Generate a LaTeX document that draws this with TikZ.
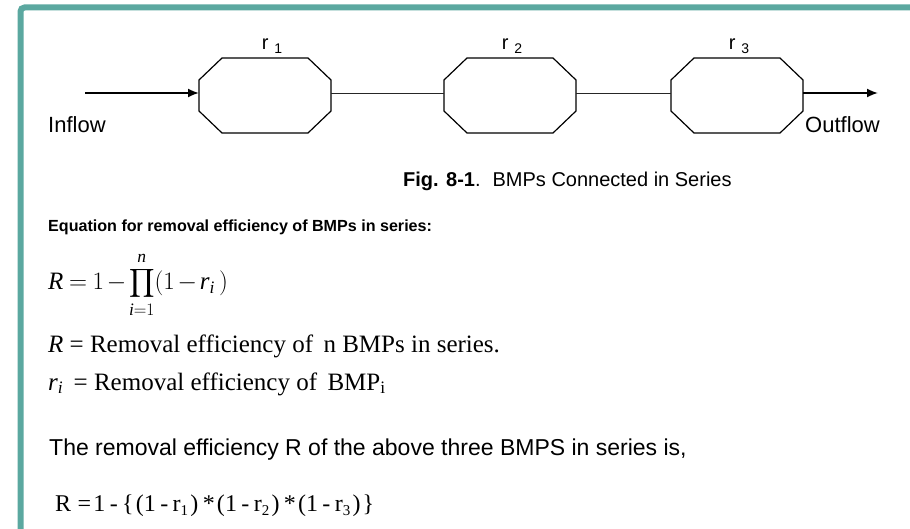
\documentclass[tikz,border=0pt]{standalone}
\usepackage{fix-cm}
\usepackage{exscale}
\usepackage{fontspec}
\setmainfont{Liberation Serif}
\setsansfont{Liberation Sans}
\usetikzlibrary{arrows.meta}
\definecolor{tealframe}{HTML}{5BA8A0}
\newcommand\gapA{\hspace{2.2pt}}
\newcommand\gapB{\hspace{4.4pt}}
\newcommand\subnum[1]{\raisebox{-4.5pt}{\fontsize{15}{15}\selectfont #1}}
\newcommand\smallprod{\mathop{\vcenter{\hbox{\scalebox{0.8}{$\displaystyle\prod$}}}}\limits}
\begin{document}
\begin{tikzpicture}[x=1pt,y=-1pt,
  bmp/.style={minimum width=132pt,minimum height=75pt,inner sep=0pt,outer sep=0pt},
  lbl/.style={font=\sffamily\fontsize{20}{20}\selectfont,inner sep=0pt},
  flowlbl/.style={font=\sffamily\fontsize{22}{22}\selectfont,inner sep=0pt},
  flow/.style={line width=1.8pt,-{Latex[length=11pt,width=9pt]}},
  link/.style={line width=0.9pt,draw=black!85},
  oct/.style={line width=1.2pt},
  txt/.style={inner sep=0pt,anchor=base west}
]
\useasboundingbox (0,0) rectangle (910,529);
\fill[white] (0,0) rectangle (910,529);
\draw[tealframe,line width=6pt,rounded corners=4pt] (20.5,545) -- (20.5,7.5) -- (925,7.5);

\node[bmp] (b1) at (265,95.5) {};
\node[bmp] (b2) at (510,95.5) {};
\node[bmp] (b3) at (737,95.5) {};
\foreach \n in {b1,b2,b3}{
  \draw[oct] ([xshift=23pt]\n.north west) -- ([xshift=-23pt]\n.north east)
    -- ([yshift=-22pt]\n.north east) -- ([yshift=22pt]\n.south east)
    -- ([xshift=-23pt]\n.south east) -- ([xshift=23pt]\n.south west)
    -- ([yshift=22pt]\n.south west) -- ([yshift=-22pt]\n.north west) -- cycle;
}
\coordinate (in) at (85,93);
\coordinate (out) at (878,93);
\draw[flow] (in) -- ([yshift=2.5pt]b1.west);
\draw[link] ([yshift=2.5pt]b1.east) -- ([yshift=2.5pt]b2.west);
\draw[link] ([yshift=2.5pt]b2.east) -- ([yshift=2.5pt]b3.west);
\draw[flow] ([yshift=2.5pt]b3.east) -- (out);

\node[lbl] (r1) at (272,46) {r\hspace{6pt}\raisebox{-4pt}{\fontsize{14}{14}\selectfont 1}};
\node[lbl] (r2) at (512,46) {r\hspace{6pt}\raisebox{-4pt}{\fontsize{14}{14}\selectfont 2}};
\node[lbl] (r3) at (739,46) {r\hspace{6pt}\raisebox{-4pt}{\fontsize{14}{14}\selectfont 3}};
\node[flowlbl,anchor=west] (inflow) at (48,125) {Inflow};
\node[flowlbl,anchor=east] (outflow) at (880,125) {Outflow};
\node[lbl,anchor=west] (cap) at (403,181) {\textbf{Fig. 8-1}.\hspace{12pt}BMPs Connected in Series};

\node[txt,font=\sffamily\bfseries\fontsize{16.1}{16.1}\selectfont] (head) at (48,232) {Equation for removal efficiency of BMPs in series:};
\node[txt,font=\fontsize{25}{25}\selectfont] (eq1) at (48,290) {\thickmuskip=4mu\medmuskip=2mu$\mathit{R} = 1 - \smallprod_{\mathit{i}=1}^{\mathit{n}} (1 - \mathit{r}_{\mathit{i}}\,)$};
\node[txt,font=\fontsize{25}{25}\selectfont] (def1) at (48,352) {$\mathit{R}$ = Removal efficiency of \,n BMPs in series.};
\node[txt,font=\fontsize{25}{25}\selectfont] (def2) at (48,390) {$\mathit{r}_{\mathit{i}}$ \,= Removal efficiency of \,BMP\textsubscript{i}};
\node[txt,font=\sffamily\fontsize{23}{23}\selectfont] (sent) at (49,455) {The removal efficiency R of the above three BMPS in series is,};
\node[txt,font=\fontsize{24}{24}\selectfont] (eq2) at (55,511) {R\hspace{6.5pt}=\gapA 1\gapB -\gapB\{\gapA(1\gapB -\gapB r\subnum{1}\gapA)\gapB *\gapA(1\gapB -\gapB r\subnum{2}\gapA)\gapB *\gapA(1\gapB -\gapB r\subnum{3}\gapA)\gapA\}};
\end{tikzpicture}
\end{document}
